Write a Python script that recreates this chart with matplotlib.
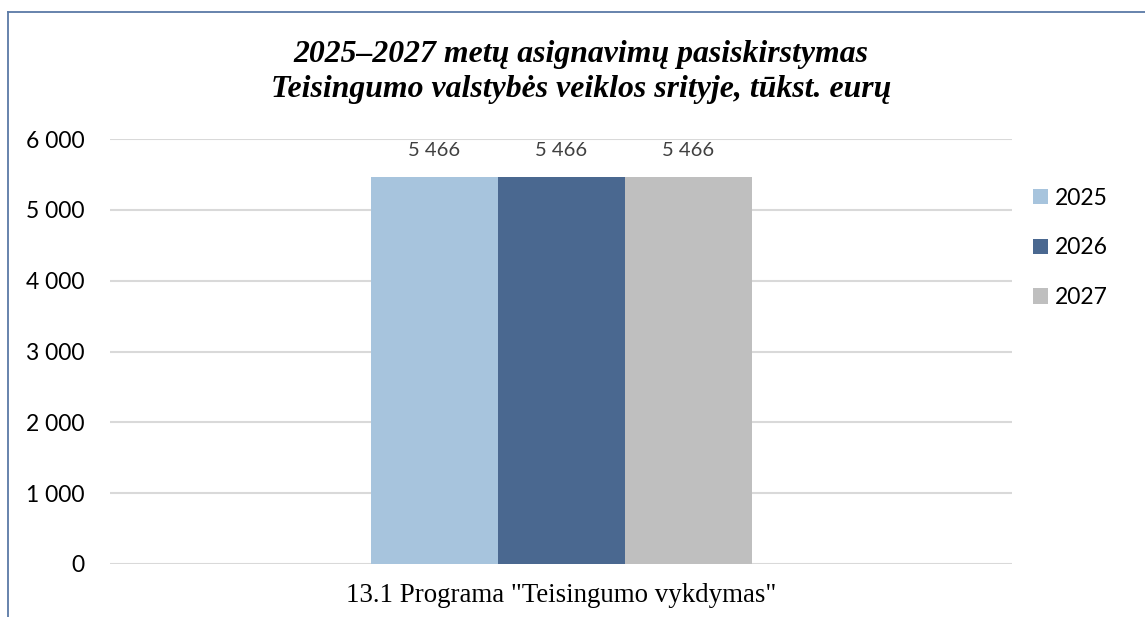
"""
Asignavimų pasiskirstymas Teisingumo valstybės veiklos srityje (2025–2027).
"""

import matplotlib.pyplot as plt
from matplotlib.lines import Line2D

# Duomenys
categories = ['13.1 Programa "Teisingumo vykdymas"']
years = ['2025', '2026', '2027']
values = {
    '2025': [5466],
    '2026': [5466],
    '2027': [5466],
}
colors = ['#a7c4dd', '#4a6890', '#bfbfbf']
y_ticks = [0, 1000, 2000, 3000, 4000, 5000, 6000]
title_lines = ['2025–2027 metų asignavimų pasiskirstymas',
               'Teisingumo valstybės veiklos srityje, tūkst. eurų']

W, H, DPI = 1145, 617, 100

fig = plt.figure(figsize=(W / DPI, H / DPI), dpi=DPI)

# Rėmelis aplink diagramą (dešinė ir apatinė dalys už paveikslėlio ribų)
border = '#5b7aa6'
fig.add_artist(Line2D([8 / W, 8 / W], [0, 1 - 12 / H], transform=fig.transFigure,
                      color=border, lw=1.3))
fig.add_artist(Line2D([8 / W, 1], [1 - 12 / H, 1 - 12 / H], transform=fig.transFigure,
                      color=border, lw=1.3))

# Ašys: x nuo 110 iki 1012 px, y=0 ties 564 px, y=6000 ties 139 px
left, right = 110, 1012
y0_px, y6_px = 564, 139
ax = fig.add_axes([left / W, 1 - y0_px / H, (right - left) / W, (y0_px - y6_px) / H])

bar_w = 127 / (right - left)
x = list(range(len(categories)))
for i, (year, color) in enumerate(zip(years, colors)):
    offs = [xi + (i - 1) * bar_w for xi in x]
    bars = ax.bar(offs, values[year], width=bar_w, color=color, label=year, zorder=3)
    for b, v in zip(bars, values[year]):
        ax.text(b.get_x() + b.get_width() / 2, 5840, f'{v:,}'.replace(',', ' '),
                ha='center', va='center', fontsize=14.5, color='#404040', family='Lato')

ax.set_xlim(-0.5, 0.5)
ax.set_ylim(0, 6000)
ax.set_yticks(y_ticks)
ax.set_yticklabels([f'{t:,}'.replace(',', ' ') for t in y_ticks], family='Lato',
                   fontsize=16.5, color='#000000')
ax.tick_params(axis='y', length=0, pad=18.5)
ax.set_xticks(x)
ax.set_xticklabels(categories, family='Liberation Serif', fontsize=19.4)
ax.tick_params(axis='x', length=0, pad=14)
ax.grid(axis='y', color='#d9d9d9', lw=1.5, zorder=0)
for s in ax.spines.values():
    s.set_visible(False)

# Pavadinimas (dvi eilutės, bazinės linijos ties 62 ir 97 px)
for line, base_px in zip(title_lines, [62, 97]):
    fig.text(581 / W, 1 - base_px / H, line, ha='center', va='baseline',
             family='Liberation Serif', style='italic', weight='bold', fontsize=22.9)

# Legenda
ax.legend(loc='upper left', bbox_to_anchor=(1012 / W, 1 - 167 / H), bbox_transform=fig.transFigure,
          frameon=False, prop={'family': 'Lato', 'size': 16.5}, handlelength=0.65,
          handleheight=0.65, handletextpad=0.3, labelspacing=1.25)

fig.savefig('out.png', dpi=DPI)
